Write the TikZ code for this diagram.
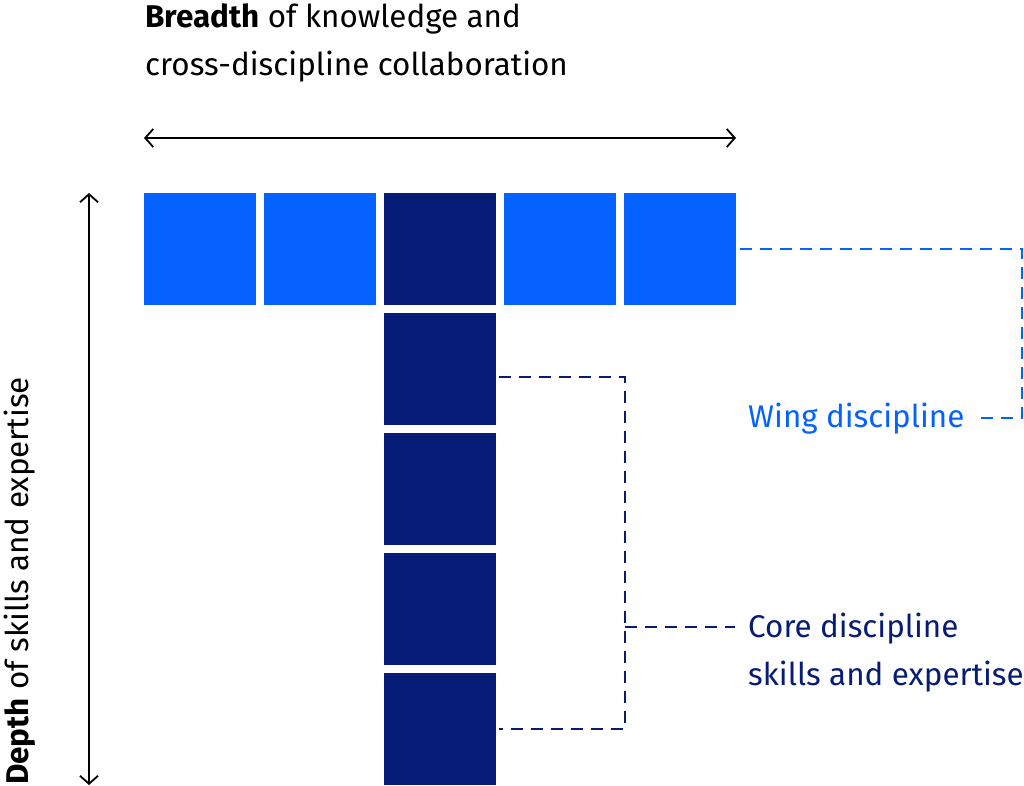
\documentclass[tikz,border=0pt]{standalone}
\usepackage{fontspec}
\setmainfont{Fira Sans}
\usepackage{tikz}
\usetikzlibrary{
  arrows.meta,
  positioning
}
\definecolor{wingblue}{RGB}{5,98,255}
\definecolor{corenavy}{RGB}{6,28,118}
\tikzset{
  skillBox/.style={
    rectangle,
    minimum size=112pt,
    inner sep=0pt,
    outer sep=0pt
  },
  wingBox/.style={
    skillBox,
    fill=wingblue
  },
  coreBox/.style={
    skillBox,
    fill=corenavy
  },
  axisArrow/.style={
    {Straight Barb[length=8pt,width=18pt]}-{Straight Barb[length=8pt,width=18pt]},
    line width=1.8pt,
    draw=black
  },
  wingLink/.style={
    draw=wingblue,
    line width=2.2pt,
    dash pattern=on 12pt off 8pt
  },
  coreLink/.style={
    draw=corenavy,
    line width=2.2pt,
    dash pattern=on 12pt off 8pt
  },
  axisLabel/.style={
    font=\fontsize{31.4}{48}\selectfont,
    inner sep=0pt,
    align=left
  }
}

\begin{document}
\begin{tikzpicture}[x=1pt,y=-1pt]
  \useasboundingbox (0,0) rectangle (1024,786);

  % top bar of the T
  \node[coreBox] (top) at (440,249) {};
  \node[wingBox, left=8pt of top] (w2) {};
  \node[wingBox, left=8pt of w2] (w1) {};
  \node[wingBox, right=8pt of top] (w3) {};
  \node[wingBox, right=8pt of w3] (w4) {};

  % stem of the T
  \node[coreBox, below=8pt of top] (c1) {};
  \foreach \i [remember=\i as \prev (initially 1)] in {2,3,4}
    \node[coreBox, below=8pt of c\prev] (c\i) {};

  % axes
  \draw[axisArrow] ([yshift=55pt]w1.north west) -- ([yshift=55pt]w4.north east);
  \draw[axisArrow] ([xshift=-55pt]w1.north west) -- ([xshift=-55pt]w1.north west |- c4.south);

  \node[axisLabel, anchor=north west] (breadth) at (145,3)
    {\textbf{Breadth} of knowledge and\\cross-discipline collaboration};
  \node[axisLabel, anchor=base west, rotate=90] (depth) at (28,785)
    {\textbf{Depth} of skills and expertise};

  % legend
  \node[axisLabel, text=wingblue, anchor=base west] (wing) at (748,427)
    {Wing discipline};
  \node[axisLabel, text=corenavy, anchor=north west] (core) at (748,613)
    {Core discipline\\skills and expertise};

  \draw[wingLink] ([xshift=4pt]w4.east) -- ++(282,0) |- ([xshift=13pt]wing.east);

  \draw[coreLink] ([shift={(3pt,-8pt)}]c1.east) -- ++(126,0) coordinate (coreJoint)
    -- (coreJoint |- c4.east) -- ([xshift=3pt]c4.east);
  \coordinate (coreTap) at ([shift={(-13pt,-14pt)}]core.north west);
  \draw[coreLink] (coreJoint |- coreTap) -- (coreTap);
\end{tikzpicture}
\end{document}
